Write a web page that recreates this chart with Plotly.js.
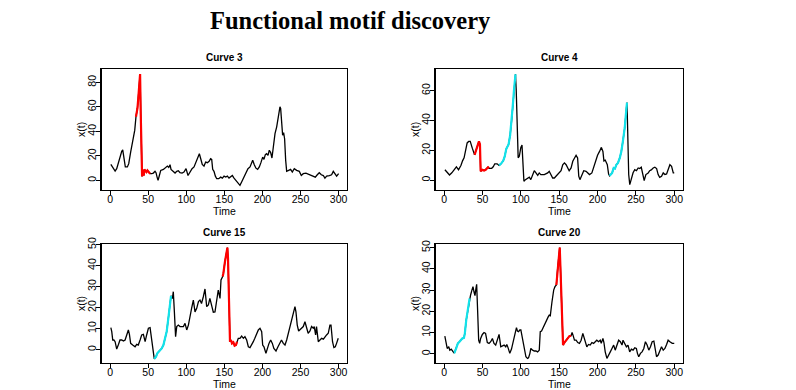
<!DOCTYPE html>
<html>
<head>
<meta charset="utf-8">
<script src="https://cdn.plot.ly/plotly-3.0.1.min.js"></script>
<style>html,body{margin:0;padding:0;background:#fff;}#chart{width:796px;height:390px;}</style>
</head>
<body>
<div id="chart"></div>
<script>
// ---- Data ----
const c3_t = [1,4.4,6.6,8.7,12.2,15.3,16.6,18.4,20,22.7,24.5,27,29.7,32.4,34,35.9,37,38,38.5,39.4,40.2,41.1,42,43.3,44.2,45,46.4,47.7,49,50.7,52.5,54.7,56.8,59,60.3,61.7,63,64.7,66.5,70,73.5,75.2,77,78.7,80,82.2,85.3,87.5,89.6,91.8,94.5,97,99.7,102.3,105,107.6,110.2,112.8,115.5,117.2,119,121,123.3,125.5,127.7,130,132,133.4,134.7,136.4,138.2,140,142.6,145.2,147.4,149.6,151.7,154,156.1,158.3,160.5,162.7,165.3,168,170.5,173,175.8,178.4,181,183.7,185.4,187.2,189.3,191.5,193.7,195.9,198,200.3,202,203.8,205.5,207.3,209,210.8,212.5,214.3,216.5,218.7,220.8,223,223.9,225.2,226.5,227.8,229.1,230.5,231.8,234.4,237,239.2,241.8,244.9,248.4,251,253.6,257.1,260.2,263.3,266.8,269.4,272,274.6,277.3,279.9,282,284.3,287.8,290.8,293,295.2,297.4,300];
const c3_x = [13.1,9,7.6,9.6,17.7,23.8,25,19,11,11,13.7,23,31.4,41,52,58.7,67,80.5,86.8,86.8,56,20.5,3.3,8.2,4,9,7.4,6.8,8.2,6.3,5.5,5.5,6,7.4,6.3,2.7,0,4,8.2,9,10.6,11.7,10.6,12.8,9,7.4,6,7.4,7.9,6.3,6,6.8,9.6,4,7.4,9.6,11,15.6,20.5,21.8,17.7,13.1,11.7,15,14.5,15.6,17.7,17.2,9,7.4,3.5,1.4,1.4,2.7,1.9,3.5,2.7,3.5,1.9,3.3,4,1.9,0,-2.2,-4,-0.8,2.7,6.3,9.6,11,13.7,16.4,12.8,10,9,11,14.5,19,17.2,21,21.8,20.5,24.6,22.7,18.3,27.3,38.2,43.7,53.2,60,58.7,49,36.9,39,34,16.4,7.4,8.2,9,6.8,9.6,8.2,7.4,4,5.5,6,5.2,4.6,4,2.7,4.6,6.3,4.6,4,1.9,3.5,4,4.6,7.4,5.5,3.5,5.5];
const c3_red = [34, 52.5];
const c3_cyan = [];

const c4_t = [1,3,5,7,10,13,16,18.8,22,24,26,28,30,32,34,36.7,39.7,43.2,45.4,46.7,47.6,49.8,52,54.1,57.2,58.5,60,62,64,66,69,71.6,74,77,79,81,84,86,88,89.5,91,92.5,93,94,95,96.5,98,100,101.5,104,106,108.7,111,113,115,117.5,119.7,122,124,126,130.6,135,137,139,141.5,143.7,146,148,150,152.4,154.6,156.8,159,161,163,165.5,167.7,170,172,174,175.5,177,179.5,182,185,187,189.5,192.6,195,197,200,202.6,205,207,208.3,210,211,212.7,214.4,215.7,217,219,221,222.7,224.5,226.6,229,231,233,235.4,237.6,238.4,238.9,239.7,240.6,242,244,246.3,248.5,250.7,253,255,257,259.4,260.8,263,266,268,270,272.5,274.7,277,279,281,283.4,285.6,287.8,290,292,294.3,296.5,298.7,300];
const c4_x = [7,6,5,3.5,5,7,9,7,10,13,15,20,25,26,26,21.5,17,22.7,26,24,6,7,6.5,7,8.7,8,8,8,9,11,11,10,11,13,16,21,24,30,40,50,60,69,71,60,40,15,16,22,23.5,-0.7,0.4,1.5,2,0.4,3.8,6.4,4.9,3.3,4.9,3.8,3.8,4.9,6,3.8,1.5,1.5,2.7,3.8,5.3,6.4,10.4,11.6,10.4,8.2,6.4,8.2,12.7,14.9,16.7,15,2.7,0.4,3.8,6.4,6,4.9,3.8,4.9,8.7,12.7,16.7,19.3,22,19.3,13,13.5,12.7,10.4,4.2,3,3.8,4.9,8.2,7.8,10.4,11.6,15,19.3,26,35,48,52,41.5,24,3.8,-2.9,1.6,5,7.1,6.4,8.2,7.8,8.7,1.6,-0.2,3.8,4.9,6.4,6.9,8.2,8.7,7.8,3.8,2,2.7,4.9,3.8,4.2,7,10.4,9.3,4.9,4.9];
const c4_red = [39.7, 58.5];
const c4_cyan = [[71.6, 93], [215.7, 238.4]];

const c15_t = [1,2.2,3.5,5,6.6,8.7,11,13,15.3,17.5,19.7,21.9,24,25.4,27,29.7,32.8,35,37,39.4,41.5,43.7,46,48,50.3,52.5,54.7,56.8,58,60.3,62,63.8,65.6,67.8,70,72,74.3,76.5,78.7,80,81.8,83,84.4,86,87.5,89.6,91.8,94,96.2,98.4,100.6,102.8,105,107,109.3,111.5,113.7,116,118,120,122.4,124.6,126.8,129,131,133.4,135.5,137.7,140,142,144.3,145.6,147.8,148.7,150.8,153,154,154.8,155.7,156.5,157.4,158.7,160,161.8,163.5,165.3,166.6,168.3,170.5,172.7,175,177,179.3,181.5,183.7,186,188,190,192.4,194.6,196.8,199,200.3,202,204.6,206.4,208.6,210.8,213,215,217.8,220.4,223,225,227.4,229.6,231.8,234,236,238.3,240.5,242.7,244,245.7,247.5,249,251.4,253.6,255.8,258,260,262.4,264.5,266.7,268,269.8,271,273.3,275.5,277.7,280,282,284.2,286.4,288.6,290,292,293.8,295.6,297.3,299.5];
const c15_x = [10.5,8.6,4.6,4.6,3.8,0.3,2.5,4.6,4.6,4.1,4.6,7,9.4,7.3,3,2.2,1.4,2.5,2.2,4.6,7,7.3,3.8,7,10.2,10.5,3.8,-3.3,-4.4,-3.3,-1.7,-1,-0.2,0.6,2.2,4.6,8.6,15,23.6,25.6,24.4,27.6,18,6.2,11,11.7,11,11,11,12.5,9.4,11.7,16.5,19.7,23.6,18,19.7,22.9,23.6,22,25.2,28.9,20.5,21.3,24.4,20.5,17.8,18,22.9,28.4,24.4,33.2,34.8,36.3,41.9,47.5,48.6,43.5,27.6,11.7,3.8,4.6,3,3.5,1.9,2.2,3.8,5.4,5.4,6.5,5.4,6.2,4.6,1.4,1,2.2,3.8,5.4,7.8,9.4,10.2,8.6,2.2,1.4,-1.7,0.6,3,4.6,3,0.6,-0.6,1.4,3,4.6,3,2.2,4.6,7.8,11.7,14,17.3,20.5,18,11.7,8.9,9.4,10.2,11,13.3,10.2,7.8,8.9,11,10.2,11,7,11,3.8,4.6,5.4,5,6.2,7,7.8,11.7,11.7,3.8,1,1.4,3,5.4];
const c15_red = [147.8, 166.6];
const c15_cyan = [[58, 80]];

const c20_t = [0.9,2.6,4,6,7.4,9.2,11.4,12.7,13.5,15.7,17.9,20,21.8,23.6,25.8,27,28.8,31,33.2,34.5,36.2,37.6,38.9,40.2,41.5,42.4,43.7,45,46.3,47.6,49.8,52,54,56.3,58.5,60.7,62.9,65,67.2,69.4,71.6,73.8,76,78.2,80.3,81.7,83.4,85.6,87.8,90,92,94.3,95.6,96.9,98.7,100,102.2,104.4,106.6,108.7,110,111.8,113,115.3,117.5,119.7,121.8,124,125.3,127,129.3,131.4,133.6,135.8,137,138.4,140.6,142.8,144.5,146.3,148,149.8,150.7,151.5,152.8,154,155,156.8,159,161,163.3,165.5,166.8,168,169.9,172,174.2,176.4,178.6,180.8,182,183.8,186,188.2,190.4,192.6,194.8,197,199,201.3,203.5,204.8,207,208.3,210,212.2,214.4,216.6,218.8,221,223,225.3,227.5,229.7,231.9,233.2,235.4,237.6,239.7,241.9,244.1,246.3,248.5,250.6,252,253.7,255.9,258,260.3,262.4,264.6,266.8,269,271.2,273.4,275.5,276.9,279,281.2,283.4,285.6,287.8,290,292,294.3,297.4,300];
const c20_x = [8.3,4.9,2.5,3.3,1.7,2.2,0.9,0.5,0.6,2.5,4.9,5.7,6.4,7.2,7.5,9.6,15.9,21.4,26.1,27.7,30,31.6,29.2,27.4,30.8,32.7,19.8,6.4,4.9,7.2,9.1,10,9.6,5.3,4.9,5.7,7.2,4.9,4.1,6.4,9.1,3.3,3.8,4.1,3.3,4.4,2.8,0.2,2.2,6.4,8.8,12.3,10.7,10.4,11.2,11.2,7.2,2.2,-1.4,-2.2,-1.9,0.2,2.5,1.7,1.3,1.3,0.9,1.7,10.4,10.7,12.7,14.3,15.9,17.5,18.2,17.9,24.5,30,31.6,32.4,40.3,49.7,50,41.8,23,7.2,4.1,5.3,6.4,7.2,8.3,8.5,10,8.8,6.4,6.4,5.3,4.9,6.4,9.6,8,5.7,3.3,4.4,4.1,5.3,4.9,5.7,6.4,5.7,6.4,4.9,7.2,5.3,0.9,-2.2,-0.9,0.9,2.5,4.1,1.7,4.1,6.4,5.7,4.1,6.4,4.9,3.3,4.1,0.9,2.2,1.7,2.8,2.5,0.2,-1.4,0.2,0.9,2.5,5.7,4.1,1.7,3.3,5.7,6,1.7,-1.4,-0.6,1.3,3.3,1.7,2.5,4.4,6.4,5.7,4.9,4.9];
const c20_red = [146.3, 165.5];
const c20_cyan = [[12.7, 33.2]];

const titles = ["Curve 3", "Curve 4", "Curve 15", "Curve 20"];
const mainTitle = "Functional motif discovery";
const xTicks = [0, 50, 100, 150, 200, 250, 300];

// ---- Build traces ----
const RED = "#FF0000", CYAN = "#12E2EA";
function seg(t, x, a, b) {
  const st = [], sx = [];
  for (let i = 0; i < t.length; i++) if (t[i] >= a - 1e-9 && t[i] <= b + 1e-9) { st.push(t[i]); sx.push(x[i]); }
  return [st, sx];
}
const curves = [
  {t: c3_t, x: c3_x, red: c3_red, cyan: c3_cyan},
  {t: c4_t, x: c4_x, red: c4_red, cyan: c4_cyan},
  {t: c15_t, x: c15_x, red: c15_red, cyan: c15_cyan},
  {t: c20_t, x: c20_x, red: c20_red, cyan: c20_cyan}
];
const traces = [];
curves.forEach((c, i) => {
  const xa = i === 0 ? "x" : "x" + (i + 1), ya = i === 0 ? "y" : "y" + (i + 1);
  traces.push({x: c.t, y: c.x, xaxis: xa, yaxis: ya, type: "scatter", mode: "lines",
    line: {color: "#000", width: 1.3}, hoverinfo: "skip", showlegend: false});
  c.cyan.forEach(r => {
    const [st, sx] = seg(c.t, c.x, r[0], r[1]);
    traces.push({x: st, y: sx, xaxis: xa, yaxis: ya, type: "scatter", mode: "lines",
      line: {color: CYAN, width: 2.2}, hoverinfo: "skip", showlegend: false});
  });
  if (c.red.length) {
    const [st, sx] = seg(c.t, c.x, c.red[0], c.red[1]);
    traces.push({x: st, y: sx, xaxis: xa, yaxis: ya, type: "scatter", mode: "lines",
      line: {color: RED, width: 2.2}, hoverinfo: "skip", showlegend: false});
  }
});

// ---- Layout ----
const W = 796, H = 390;
const colX = [[101.7, 347], [435.7, 682.7]];
const rowY = [[69, 189.5], [244, 362.7]];
const yRanges = [[-7.4, 90.9], [-6.2, 74.5], [-6.2, 50.3], [-4.2, 51.7]];
const yDticks = [20, 20, 10, 10];
const font = {family: "Liberation Sans, Arial, sans-serif", size: 10.5, color: "#000"};
const layout = {
  width: W, height: H, margin: {l: 0, r: 0, t: 0, b: 0},
  paper_bgcolor: "#fff", plot_bgcolor: "#fff", showlegend: false,
  font: font,
  annotations: [], shapes: []
};
layout.annotations.push({text: "<b>" + mainTitle + "</b>", xref: "paper", yref: "paper",
  x: 350 / W, y: 1 - 20 / H, xanchor: "center", yanchor: "middle", showarrow: false,
  font: {family: "Liberation Serif, Times New Roman, serif", size: 24.5, color: "#000"}});
for (let i = 0; i < 4; i++) {
  const col = i % 2, row = Math.floor(i / 2);
  const sfx = i === 0 ? "" : String(i + 1);
  const xd = [colX[col][0] / W, colX[col][1] / W];
  const yd = [1 - rowY[row][1] / H, 1 - rowY[row][0] / H];
  layout["xaxis" + sfx] = {domain: xd, range: [-11, 311], anchor: "y" + sfx,
    tickmode: "array", tickvals: xTicks, ticks: "outside", ticklen: 4, tickwidth: 1, tickcolor: "#000",
    ticklabelstandoff: -5,
    showline: true, mirror: true, linecolor: "#000", linewidth: 1.4, showgrid: false, zeroline: false,
    tickfont: font, fixedrange: true};
  layout["yaxis" + sfx] = {domain: yd, range: yRanges[i], anchor: "x" + sfx,
    tick0: 0, dtick: yDticks[i], ticks: "outside", ticklen: 4, tickwidth: 1, tickcolor: "#000",
    ticklabelstandoff: -4,
    showline: true, mirror: true, linecolor: "#000", linewidth: 1.4, showgrid: false, zeroline: false,
    tickangle: -90, tickfont: font, fixedrange: true};
  const cx = (colX[col][0] + colX[col][1]) / 2;
  layout.annotations.push({text: "<b>" + titles[i] + "</b>", xref: "paper", yref: "paper",
    x: cx / W, y: 1 - (rowY[row][0] - 12) / H, xanchor: "center", yanchor: "middle", showarrow: false,
    font: {family: "Liberation Sans, Arial, sans-serif", size: 10, color: "#000"}});
  layout.annotations.push({text: "Time", xref: "paper", yref: "paper",
    x: cx / W, y: 1 - (rowY[row][1] + 21) / H, xanchor: "center", yanchor: "middle", showarrow: false,
    font: font});
  layout.annotations.push({text: "x(t)", xref: "paper", yref: "paper", textangle: -90,
    x: (colX[col][0] - 20) / W, y: 1 - ((rowY[row][0] + rowY[row][1]) / 2) / H,
    xanchor: "center", yanchor: "middle", showarrow: false, font: font});
}
Plotly.newPlot("chart", traces, layout, {displayModeBar: false, staticPlot: true});
</script>
</body>
</html>
